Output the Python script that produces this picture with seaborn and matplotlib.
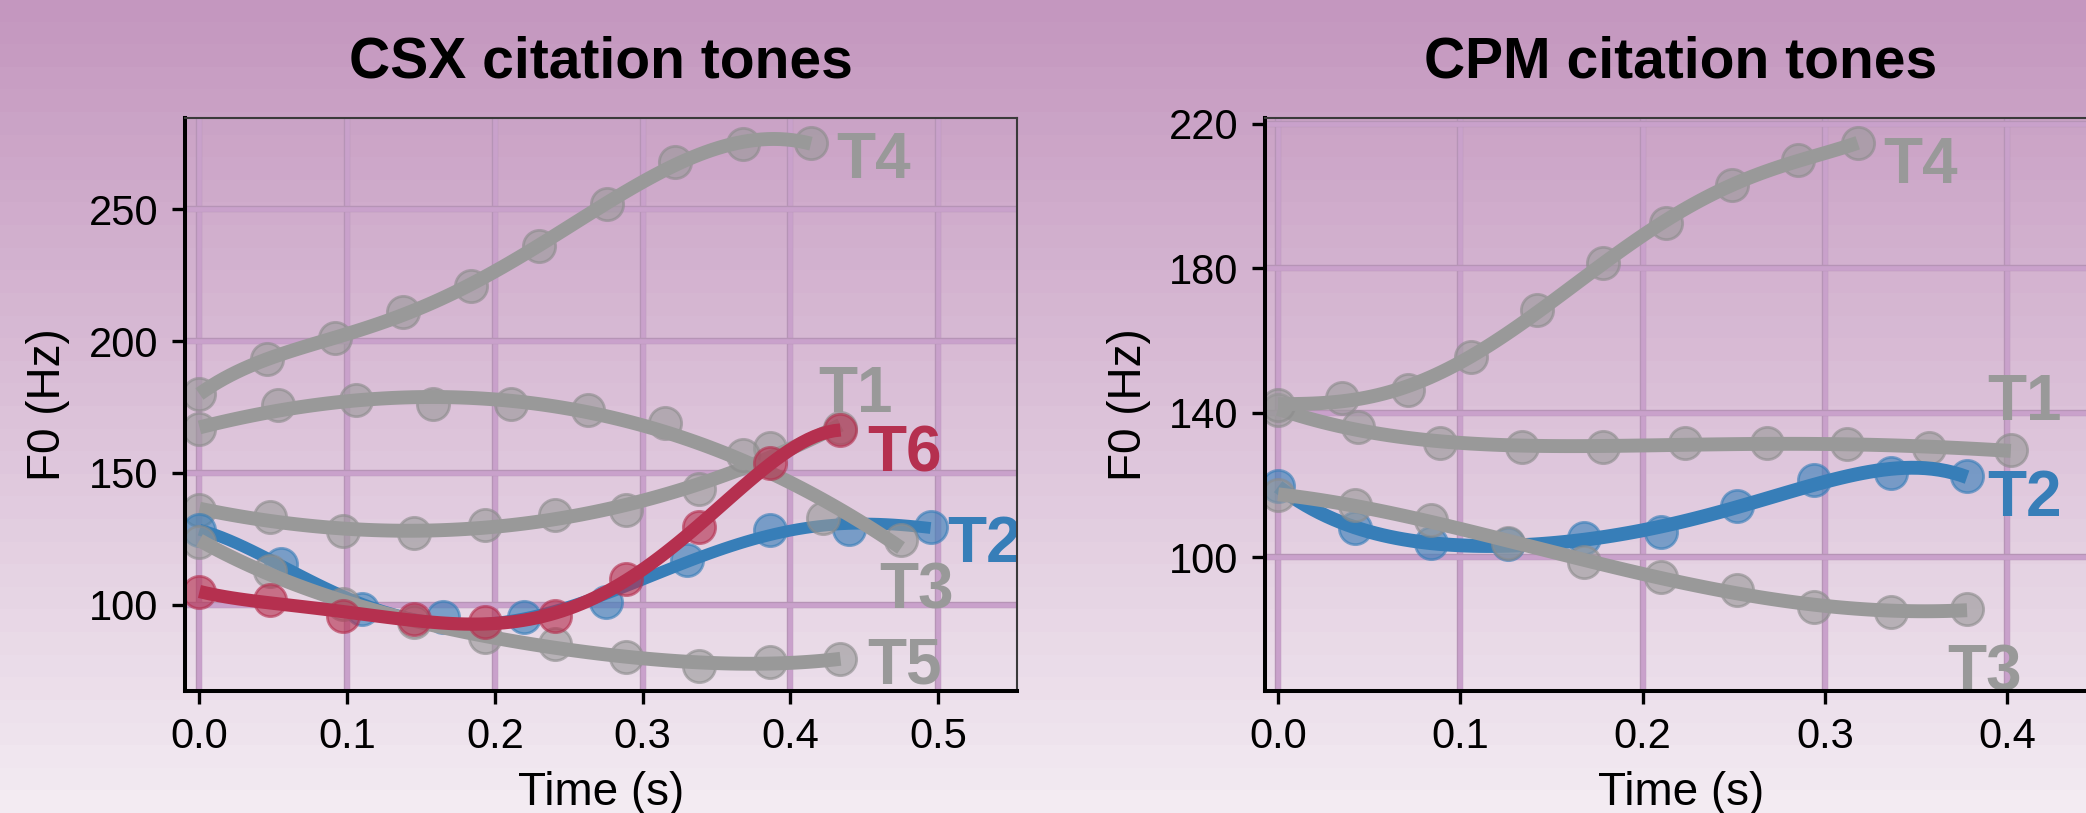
import numpy as np
import matplotlib
matplotlib.use('Agg')
import matplotlib.pyplot as plt
import matplotlib.patheffects as pe
from matplotlib.colors import to_rgb
import seaborn as sns

plt.rcParams['font.family'] = ['Liberation Sans', 'DejaVu Sans']

# ---------------- data ----------------
# CSX citation tones
csx_t1_x = [0.000, 0.048, 0.097, 0.145, 0.193, 0.241, 0.289, 0.338, 0.386, 0.434]
csx_t1_y = [135.9, 133.3, 128.0, 127.4, 130.2, 134.0, 135.9, 144.1, 159.3, 166.9]
csx_t2_x = [0.000, 0.055, 0.110, 0.165, 0.220, 0.275, 0.330, 0.386, 0.440, 0.495]
csx_t2_y = [128.5, 115.5, 98.5, 95.5, 95.4, 101.1, 117.2, 128.5, 128.9, 129.6]
csx_t3_x = [0.000, 0.053, 0.106, 0.158, 0.211, 0.263, 0.315, 0.368, 0.422, 0.475]
csx_t3_y = [166.5, 175.8, 177.5, 176.0, 176.2, 174.0, 169.0, 156.8, 132.8, 124.6]
csx_t4_x = [0.000, 0.046, 0.092, 0.138, 0.184, 0.230, 0.276, 0.322, 0.368, 0.414]
csx_t4_y = [180.0, 193.0, 201.0, 211.0, 221.0, 236.0, 252.0, 268.0, 274.5, 275.0]
csx_t5_x = [0.000, 0.048, 0.097, 0.145, 0.193, 0.241, 0.289, 0.338, 0.386, 0.434]
csx_t5_y = [124.0, 113.0, 100.5, 93.5, 88.0, 85.3, 80.3, 77.0, 78.5, 79.5]
csx_t6_x = [0.000, 0.048, 0.097, 0.145, 0.193, 0.241, 0.289, 0.338, 0.386, 0.434]
csx_t6_y = [104.9, 101.7, 96.0, 94.8, 93.5, 96.0, 110.0, 129.6, 153.6, 166.2]

# CPM citation tones
cpm_t1_x = [0.000, 0.044, 0.089, 0.134, 0.178, 0.223, 0.268, 0.312, 0.357, 0.402]
cpm_t1_y = [140.7, 136.1, 131.5, 130.6, 130.6, 131.5, 131.5, 131.3, 130.1, 129.6]
cpm_t2_x = [0.000, 0.042, 0.084, 0.126, 0.168, 0.210, 0.252, 0.294, 0.336, 0.378]
cpm_t2_y = [119.6, 108.0, 103.8, 103.5, 105.4, 107.0, 114.0, 121.4, 123.3, 122.4]
cpm_t3_x = [0.000, 0.042, 0.084, 0.126, 0.168, 0.210, 0.252, 0.294, 0.336, 0.378]
cpm_t3_y = [117.2, 114.4, 110.3, 103.8, 98.7, 94.5, 90.9, 86.3, 84.8, 85.5]
cpm_t4_x = [0.000, 0.035, 0.071, 0.106, 0.142, 0.178, 0.213, 0.249, 0.285, 0.318]
cpm_t4_y = [142.1, 144.0, 146.3, 155.5, 168.4, 181.5, 192.5, 203.1, 210.0, 214.6]

# direct labels: (text, x of left edge, baseline y)
csx_labels = [("T4", 0.431, 261.6), ("T1", 0.419, 173.2), ("T6", 0.452, 150.5),
              ("T2", 0.506, 116.4), ("T3", 0.460, 98.8), ("T5", 0.452, 70.3)]
cpm_labels = [("T4", 0.332, 203.7), ("T1", 0.389, 138.0), ("T2", 0.389, 111.4),
              ("T3", 0.367, 63.1)]

x_ticks_csx = [0.0, 0.1, 0.2, 0.3, 0.4, 0.5]
y_ticks_csx = [100, 150, 200, 250]
x_ticks_cpm = [0.0, 0.1, 0.2, 0.3, 0.4]
y_ticks_cpm = [100, 140, 180, 220]

GRAY = '#999999'
BLUE = '#377EB8'
RED = '#B5304F'
EDGE = {GRAY: '#8c8c8c', BLUE: '#377EB8', RED: '#B5304F'}

# ---------------- figure ----------------
W, H = 2086, 813
fig = plt.figure(figsize=(W / 100, H / 100), dpi=100)

bg = fig.add_axes([0, 0, 1, 1], zorder=-10)
top = np.array(to_rgb('#C497BF'))
bot = np.array(to_rgb('#F3EBF2'))
tt = np.linspace(0, 1, 36)[:, None]
grad = top * (1 - tt) + bot * tt
bg.imshow(grad[:, None, :], aspect='auto', extent=[0, 1, 0, 1], interpolation='nearest')
bg.axis('off')


def panel(rect, series, labels, xlim, ylim, xticks, yticks, title):
    ax = fig.add_axes(rect)
    ax.set_facecolor('none')
    ax.set_axisbelow(True)
    for i, (x, y, c, lw, order) in enumerate(series):
        sns.scatterplot(x=np.array(x), y=np.array(y), color=c, s=540, alpha=0.62,
                        edgecolor=EDGE[c], linewidth=2.0, ax=ax, zorder=3 + 2 * i,
                        legend=False)
        sns.regplot(x=np.array(x), y=np.array(y), order=order, ci=None, scatter=False,
                    truncate=True, ax=ax,
                    line_kws=dict(color=c, lw=lw, solid_capstyle='butt',
                                  zorder=4 + 2 * i))
    for txt, lx, ly in labels:
        col = GRAY
        if txt == 'T2':
            col = BLUE
        if txt == 'T6':
            col = RED
        ax.text(lx, ly, txt, color=col, fontsize=46, fontweight='bold',
                ha='left', va='baseline', clip_on=True, zorder=30)
    ax.set_xlim(*xlim)
    ax.set_ylim(*ylim)
    ax.set_xticks(xticks)
    ax.set_xticklabels([f"{v:.1f}" for v in xticks])
    ax.set_yticks(yticks)
    ax.set_yticklabels([str(v) for v in yticks])
    ax.grid(True, color='#C9A1CB', lw=3.4, zorder=0)
    for gl in ax.get_xgridlines() + ax.get_ygridlines():
        gl.set_path_effects([pe.Stroke(linewidth=4.6, foreground='#B694B6'), pe.Normal()])
    ax.tick_params(length=9.5, width=2.4, pad=9.5, labelsize=30, color='black',
                   labelcolor='black')
    for s in ['left', 'bottom']:
        ax.spines[s].set_linewidth(2.9)
        ax.spines[s].set_color('black')
        ax.spines[s].set_zorder(40)
    for s in ['top', 'right']:
        ax.spines[s].set_linewidth(1.5)
        ax.spines[s].set_color('#3a3a3a')
        ax.spines[s].set_zorder(40)
    ax.set_title(title, fontsize=41, fontweight='bold', pad=29.5)
    ax.set_xlabel('Time (s)', fontsize=33)
    ax.xaxis.set_label_coords(0.5, -0.199)
    ax.xaxis.label.set_va('baseline')
    ax.set_ylabel('F0 (Hz)', fontsize=33)
    return ax


ax1 = panel([185 / W, 122 / H, 832 / W, 573 / H],
            [(csx_t1_x, csx_t1_y, GRAY, 10, 3), (csx_t2_x, csx_t2_y, BLUE, 8.5, 5),
             (csx_t3_x, csx_t3_y, GRAY, 10, 3), (csx_t4_x, csx_t4_y, GRAY, 10, 5),
             (csx_t5_x, csx_t5_y, GRAY, 10, 4), (csx_t6_x, csx_t6_y, RED, 9.5, 5)],
            csx_labels, (-0.0098, 0.5535), (67.4, 284.5), x_ticks_csx, y_ticks_csx,
            'CSX citation tones')
ax1.yaxis.set_label_coords(-0.1647, 0.5)
ax1.yaxis.label.set_va('center')

ax2 = panel([1265 / W, 122 / H, 832 / W, 573 / H],
            [(cpm_t1_x, cpm_t1_y, GRAY, 10, 4), (cpm_t2_x, cpm_t2_y, BLUE, 10, 5),
             (cpm_t3_x, cpm_t3_y, GRAY, 10, 4), (cpm_t4_x, cpm_t4_y, GRAY, 10, 5)],
            cpm_labels, (-0.0072, 0.4493), (62.9, 221.6), x_ticks_cpm, y_ticks_cpm,
            'CPM citation tones')
ax2.yaxis.set_label_coords(-0.163, 0.5)
ax2.yaxis.label.set_va('center')

fig.savefig('out.png', dpi=100)
